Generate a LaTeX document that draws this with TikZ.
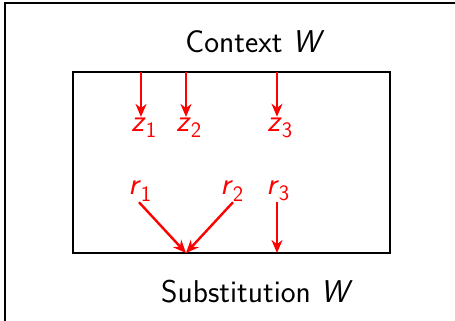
\documentclass[tikz,border=0pt]{standalone}
\usepackage{fontspec}
\usetikzlibrary{arrows.meta}
\begin{document}
\begin{tikzpicture}[x=1pt,y=-1pt,
  frame/.style={draw=black,line width=2.6pt},
  lbl/.style={font=\fontsize{31.5}{36}\selectfont\sffamily},
  var/.style={text=red,font=\fontsize{31.5}{36}\selectfont\sffamily,inner sep=1pt},
  flow/.style={draw=red,line width=2.4pt,-{Stealth[length=13pt,width=11pt]}}]
  \useasboundingbox (0,0) rectangle (455,321);
  \begin{scope}
    \clip (0,0) rectangle (455,321);
    \draw[frame] (5,3) rectangle (480,340);
  \end{scope}
  \draw[frame,line width=2.8pt] (73,72) rectangle (390,253);
  \node[lbl] (ctx) at (255,42) {Context \textit{W}};
  \node[lbl] (sub) at (257,292) {Substitution \textit{W}};
  % top row of variables, fed from the upper edge
  \coordinate (t1) at (141,72);
  \coordinate (t2) at (186,72);
  \coordinate (t3) at (277,72);
  \node[var] (z1) at (144,128) {\textit{z}\textsubscript{1}};
  \node[var] (z2) at (189,128) {\textit{z}\textsubscript{2}};
  \node[var] (z3) at (280,128) {\textit{z}\textsubscript{3}};
  \draw[flow] (t1) -- (t1 |- z1.north);
  \draw[flow] (t2) -- (t2 |- z2.north);
  \draw[flow] (t3) -- (t3 |- z3.north);
  % bottom row, flowing into the lower edge
  \node[var] (r1) at (140,191) {\textit{r}\textsubscript{1}};
  \node[var] (r2) at (232,191) {\textit{r}\textsubscript{2}};
  \node[var] (r3) at (278,191) {\textit{r}\textsubscript{3}};
  \coordinate (s) at (186,253);
  \coordinate (s3) at (277,253);
  \draw[flow] ([xshift=-1pt]r1.south) -- (s);
  \draw[flow] ([xshift=1pt]r2.south) -- (s);
  \draw[flow] (r3.south -| s3) -- (s3);
\end{tikzpicture}
\end{document}
